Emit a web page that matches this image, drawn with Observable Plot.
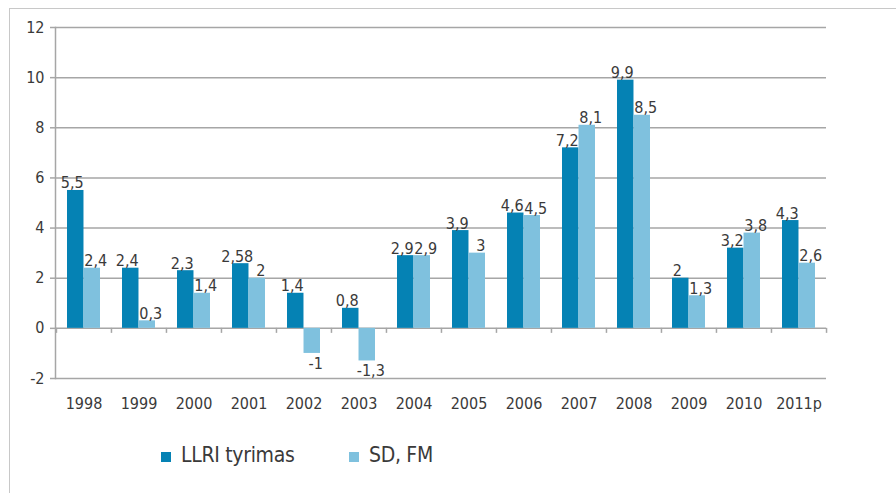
<!DOCTYPE html>
<html>
<head>
<meta charset="utf-8">
<script src="https://cdn.jsdelivr.net/npm/d3@7"></script>
<script src="https://cdn.jsdelivr.net/npm/@observablehq/plot@0.6"></script>
<style>
  html, body { margin: 0; padding: 0; background: #fff; }
  body { width: 896px; height: 493px; position: relative; overflow: hidden;
         font-family: "Liberation Sans Narrow", "DejaVu Sans Condensed", "Liberation Sans", sans-serif; }
  #frame { position: absolute; left: 9px; top: 8px; width: 900px; height: 500px; border: 1px solid #c8c8c8; z-index: 2; pointer-events: none; }
  #chart { position: absolute; left: 0; top: 0; z-index: 1; }
  #legend { position: absolute; left: 0; top: 440px; width: 896px; height: 30px; z-index: 1; }
  .item { position: absolute; top: 0; display: flex; align-items: center; height: 30px;
          font-size: 21px; color: #3a3a3a; letter-spacing: -0.3px; }
  .sw { width: 10px; height: 10px; margin-right: 10px; margin-top: 4px; }
</style>
</head>
<body>
<div id="chart"></div>
<div id="legend"></div>
<div id="frame"></div>
<script>
const years = ["1998","1999","2000","2001","2002","2003","2004","2005","2006","2007","2008","2009","2010","2011p"];
const llri  = [5.5, 2.4, 2.3, 2.58, 1.4, 0.8, 2.9, 3.9, 4.6, 7.2, 9.9, 2, 3.2, 4.3];
const sdfm  = [2.4, 0.3, 1.4, 2, -1, -1.3, 2.9, 3, 4.5, 8.1, 8.5, 1.3, 3.8, 2.6];
const seriesNames = ["LLRI tyrimas", "SD, FM"];
const colors = ["#0582b4", "#7fc1de"];
const yTicks = [-2, 0, 2, 4, 6, 8, 10, 12];

const fmt = v => String(v).replace(".", ",");
const dark = years.map((y, i) => ({year: y, value: llri[i]}));
const light = years.map((y, i) => ({year: y, value: sdfm[i]}));

const W = 896, H = 420, mL = 55, mR = 70;
const step = (W - mL - mR) / years.length;
const half = step * 0.6 / 2;
const txt = "#3a3a3a";
const grid = "#a6a6a6";
const fontSize = 16;

const labelMarks = (data, dx) => [
  Plot.text(data.filter(d => d.value >= 0), {x: "year", y: "value", text: d => fmt(d.value),
    dx, dy: -2, lineAnchor: "bottom", fill: txt, fontSize, letterSpacing: "-0.8px"}),
  Plot.text(data.filter(d => d.value < 0), {x: "year", y: "value", text: d => fmt(d.value),
    dx: dx, dy: 4, lineAnchor: "top", fill: txt, fontSize, letterSpacing: "-0.8px"})
];

const chart = Plot.plot({
  width: W, height: H,
  marginLeft: mL, marginRight: mR, marginTop: 27, marginBottom: 42,
  style: {fontFamily: '"Liberation Sans Narrow", "DejaVu Sans Condensed", "Liberation Sans", sans-serif', background: "transparent"},
  x: {domain: years, paddingInner: 0.4, paddingOuter: 0.2},
  y: {domain: [-2, 12]},
  marks: [
    Plot.gridY(yTicks, {stroke: grid, strokeOpacity: 1, strokeWidth: 1.5}),
    Plot.frame({anchor: "left", stroke: grid, strokeWidth: 1.5}),
    Plot.ruleX(years, {x: d => d, y1: 0, y2: -0.2, dx: -step / 2, stroke: grid, strokeWidth: 1.5}),
    Plot.ruleX(years.slice(-1), {x: d => d, y1: 0, y2: -0.2, dx: step / 2, stroke: grid, strokeWidth: 1.5}),
    Plot.axisY(yTicks, {tickSize: 5, tickPadding: 6, tickFormat: d => String(d), stroke: grid, strokeWidth: 1.5,
      fill: txt, fontSize, label: null}),
    Plot.axisX({tickSize: 0, tickPadding: 19, fill: txt, fontSize, label: null, letterSpacing: "-0.5px"}),
    Plot.barY(dark, {x: "year", y: "value", fill: colors[0], insetRight: half}),
    Plot.barY(light, {x: "year", y: "value", fill: colors[1], insetLeft: half}),
    ...labelMarks(dark, -half / 2 - 3.5),
    ...labelMarks(light, half / 2 + 3.5)
  ]
});
document.getElementById("chart").appendChild(chart);

const legend = document.getElementById("legend");
const lx = [161, 349];
seriesNames.forEach((name, i) => {
  const it = document.createElement("div");
  it.className = "item";
  it.style.left = lx[i] + "px";
  it.innerHTML = `<span class="sw" style="background:${colors[i]}"></span><span>${name}</span>`;
  legend.appendChild(it);
});
</script>
</body>
</html>
